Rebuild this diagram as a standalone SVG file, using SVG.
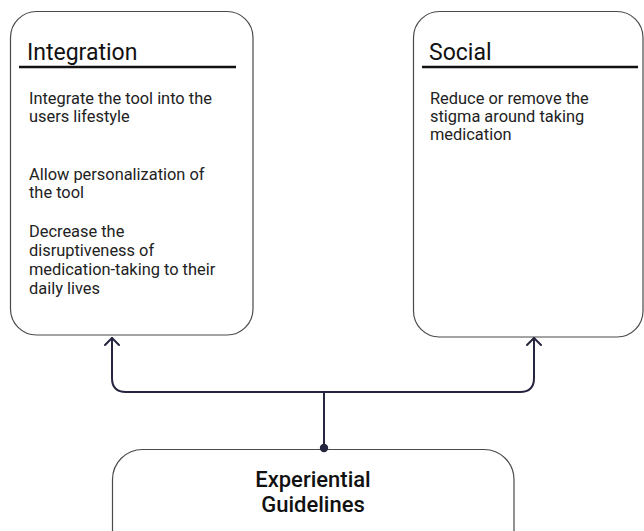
<svg xmlns="http://www.w3.org/2000/svg" width="644" height="531" viewBox="0 0 644 531">
  <style>
    .box { fill: #ffffff; stroke: #4a4a4a; stroke-width: 1.2; }
    .title { font-family: Roboto, "Liberation Sans", sans-serif; font-size: 23px; font-weight: 400; fill: #111111; }
    .rule { stroke: #111111; stroke-width: 2.5; }
    .body { font-family: Roboto, "Liberation Sans", sans-serif; font-size: 16.4px; fill: #222222; }
    .label { font-family: Roboto, "Liberation Sans", sans-serif; font-size: 22px; font-weight: 500; fill: #111111; text-anchor: middle; }
    .link { fill: none; stroke: #262540; stroke-width: 2; stroke-linejoin: round; stroke-linecap: round; }
  </style>
  <defs>
    <marker id="chevron" viewBox="0 0 10 16" refX="9" refY="8" markerWidth="10" markerHeight="16" markerUnits="userSpaceOnUse" orient="auto">
      <path d="M2 1 L9 8 L2 15" fill="none" stroke="#262540" stroke-width="2" stroke-linecap="round" stroke-linejoin="round"/>
    </marker>
  </defs>
  <rect width="644" height="531" fill="#ffffff"/>

  <g id="integration">
    <rect class="box" x="10.5" y="11.5" width="242.5" height="323.5" rx="26" ry="26"/>
    <text class="title" x="27" y="59.5">Integration</text>
    <line class="rule" x1="19" y1="67" x2="236" y2="67"/>
    <text class="body">
      <tspan x="29" y="103.5">Integrate the tool into the</tspan>
      <tspan x="29" y="121.5">users lifestyle</tspan>
      <tspan x="29" y="179.5">Allow personalization of</tspan>
      <tspan x="29" y="197.5">the tool</tspan>
      <tspan x="29" y="237">Decrease the</tspan>
      <tspan x="29" y="256">disruptiveness of</tspan>
      <tspan x="29" y="275">medication-taking to their</tspan>
      <tspan x="29" y="294">daily lives</tspan>
    </text>
  </g>

  <g id="social">
    <rect class="box" x="413.5" y="11.5" width="229.5" height="325.5" rx="26" ry="26"/>
    <text class="title" x="429" y="59.5">Social</text>
    <line class="rule" x1="422" y1="67" x2="638" y2="67"/>
    <text class="body">
      <tspan x="430" y="103.5">Reduce or remove the</tspan>
      <tspan x="430" y="121.5">stigma around taking</tspan>
      <tspan x="430" y="139.5">medication</tspan>
    </text>
  </g>

  <g id="experiential-guidelines">
    <rect class="box" x="112.5" y="449.5" width="401.5" height="110" rx="30" ry="30"/>
    <text class="label" x="313" y="487">Experiential</text>
    <text class="label" x="313" y="512">Guidelines</text>
  </g>

  <g id="connectors">
    <path class="link" d="M324 448 V392 H126 Q112 392 112 378 V338" marker-end="url(#chevron)"/>
    <path class="link" d="M324 392 H520 Q534 392 534 378 V338" marker-end="url(#chevron)"/>
    <circle cx="324" cy="448" r="4.2" fill="#262540"/>
  </g>
</svg>
